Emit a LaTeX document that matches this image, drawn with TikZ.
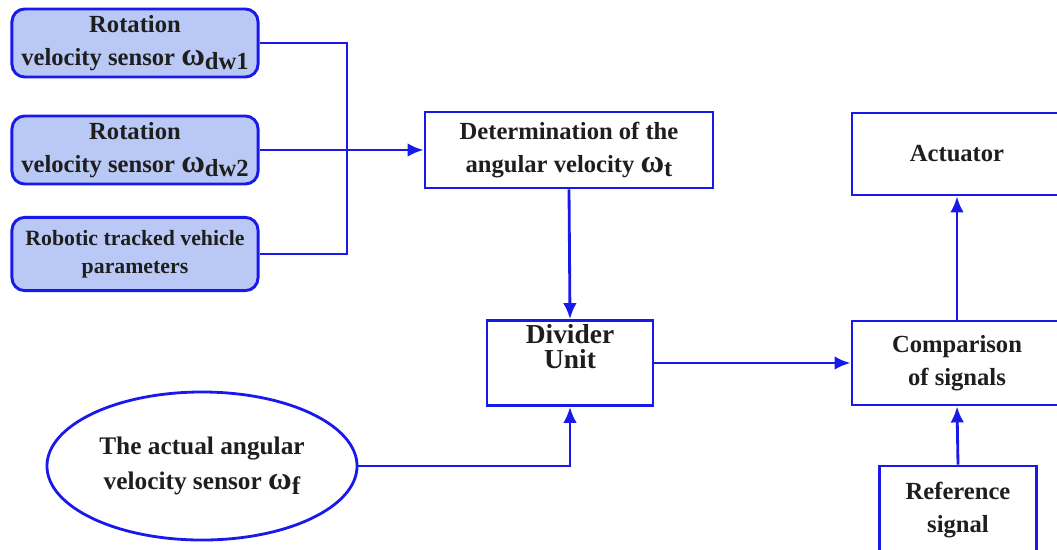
\documentclass[tikz,border=0pt]{standalone}
\usepackage{fontspec}
\setmainfont{Liberation Serif}
\usetikzlibrary{arrows.meta,positioning,shapes.geometric}

\definecolor{lineblue}{RGB}{25,25,235}
\definecolor{boxfill}{RGB}{186,200,245}
\definecolor{inkgray}{RGB}{30,30,30}

\newcommand{\om}[1]{{\fontsize{23}{23}\selectfont ω}\raisebox{-0.4ex}{#1}}

\begin{document}
\begin{tikzpicture}[x=0.025cm, y=-0.025cm,
  sensor/.style={draw=lineblue, line width=2.1pt, fill=boxfill, rounded corners=9pt, minimum width=6.15cm, minimum height=1.7cm, align=center, text=inkgray, font=\bfseries\fontsize{17.5}{23}\selectfont},
  blk/.style={draw=lineblue, line width=2pt, align=center, text=inkgray, font=\bfseries\fontsize{17.5}{23}\selectfont},
  wire/.style={draw=lineblue, line width=2pt},
  arr/.style={wire, -{Latex[length=4mm, width=3.4mm]}}
]
\useasboundingbox (0,0) rectangle (1057,549);

% sensors on the left
\node[sensor] (dw1) at (135,43) {Rotation\\velocity sensor \om{dw1}};
\node[sensor] (dw2) at (135,150) {Rotation\\velocity sensor \om{dw2}};
\node[sensor, minimum height=1.83cm, font=\bfseries\fontsize{15.5}{20}\selectfont] (par) at (135,254) {Robotic tracked vehicle\\parameters};
\coordinate (bus) at (347,150);

% processing chain
\node[blk, minimum width=7.2cm, minimum height=1.9cm] (det) at (569,150) {Determination of the\\angular velocity \om{t}};
\node[blk, minimum width=4.15cm, minimum height=2.12cm] (div) at (570,363) {};
\node[text=inkgray, align=center, font=\bfseries\fontsize{19.5}{18}\selectfont, below=0pt of div.north] (divtxt) {Divider\\Unit};
\node[ellipse, draw=lineblue, line width=2pt, minimum width=7.75cm, minimum height=3.7cm, align=center, text=inkgray, font=\bfseries\fontsize{18}{25}\selectfont] (act) at (202,466) {The actual angular\\velocity sensor \om{f}};

% right column
\node[blk, minimum width=5.25cm, minimum height=2.1cm] (cmp) at (957,363) {Comparison\\of signals};
\node[blk, minimum width=5.25cm, minimum height=2.05cm] (actu) at (957,154) {Actuator};
\node[blk, minimum width=3.93cm, minimum height=2.2cm] (ref) at (958,510) {Reference\\signal};

% connectors
\draw[wire] (dw1.east) -| (bus) |- (par.east);
\draw[arr] (dw2.east) -- (det.west);
\draw[arr] (det.south) -- (div.north);
\draw[arr] (act.east) -| (div.south);
\draw[arr] (div.east) -- (cmp.west);
\draw[arr] (cmp.north) -- (actu.south);
\draw[arr] (ref.north) -- (cmp.south);
\end{tikzpicture}
\end{document}
